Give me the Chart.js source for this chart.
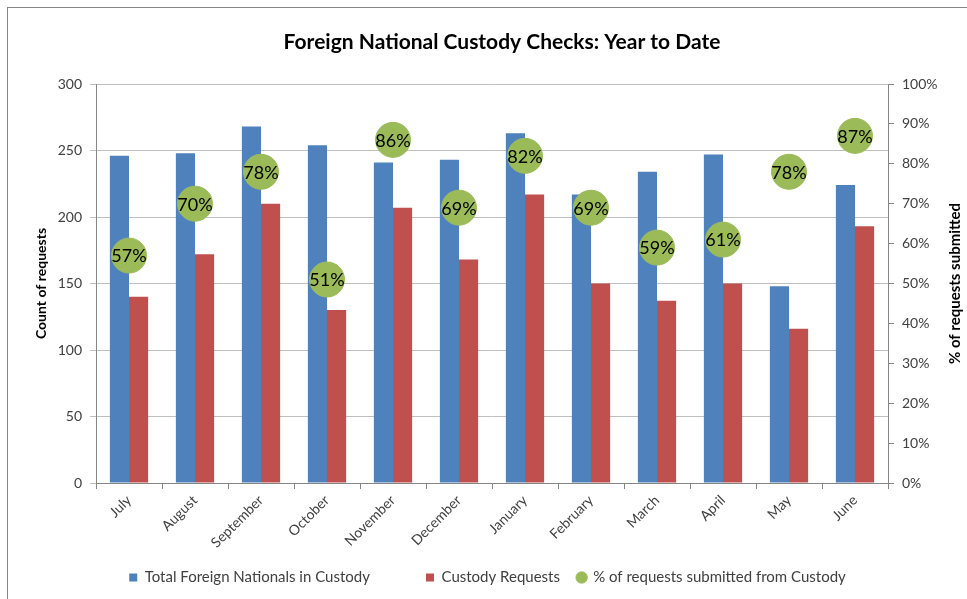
<!DOCTYPE html>
<html>
<head>
<meta charset="utf-8">
<script src="https://cdn.jsdelivr.net/npm/chart.js@4"></script>
<style>
  html, body { margin: 0; padding: 0; background: #fff; }
  #wrap { position: relative; width: 967px; height: 599px; }
  #frame { position: absolute; left: 7px; top: 7px; width: 970px; height: 600px;
           border-left: 1px solid #868686; border-top: 1px solid #868686; }
</style>
</head>
<body>
<div id="wrap">
  <div id="frame"></div>
  <canvas id="myChart" width="967" height="599"></canvas>
</div>
<script>
const months = ["July", "August", "September", "October", "November", "December",
  "January", "February", "March", "April", "May", "June"];
const totalInCustody = [246, 248, 268, 254, 241, 243, 263, 217, 234, 247, 148, 224];
const custodyRequests = [140, 172, 210, 130, 207, 168, 217, 150, 137, 150, 116, 193];
const pctSubmitted = [0.57, 0.70, 0.78, 0.51, 0.86, 0.69, 0.82, 0.69, 0.59, 0.61, 0.78, 0.87];

const FONT = "Lato, 'Open Sans', sans-serif";
const tickColor = "#404040";
const axisColor = "#868686";

// titel och höger axeltitel ritas själv så de hamnar rätt
const extraText = {
  id: "extraText",
  afterDraw(chart) {
    const ctx = chart.ctx;
    const area = chart.chartArea;
    ctx.save();
    ctx.fillStyle = "#000";
    ctx.textAlign = "center";
    ctx.textBaseline = "middle";
    ctx.font = "bold 21px " + FONT;
    ctx.fillText("Foreign National Custody Checks: Year to Date", 502, 42);

    ctx.translate(955, (area.top + area.bottom) / 2);
    ctx.rotate(-Math.PI / 2);
    ctx.font = "bold 15px " + FONT;
    ctx.fillText("% of requests submitted", 0, 0);
    ctx.restore();
  },
  afterDatasetsDraw(chart) {
    // procenttext i de gröna cirklarna
    const ctx = chart.ctx;
    const meta = chart.getDatasetMeta(2);
    ctx.save();
    ctx.fillStyle = "#000";
    ctx.textAlign = "center";
    ctx.textBaseline = "middle";
    ctx.font = "18px " + FONT;
    meta.data.forEach((pt, i) => {
      ctx.fillText(Math.round(pctSubmitted[i] * 100) + "%", pt.x, pt.y + 1);
    });
    ctx.restore();
  }
};

const ctx = document.getElementById("myChart").getContext("2d");

const custodyChart = new Chart(ctx, {
  type: "bar",
  data: {
    labels: months,
    datasets: [
      {
        label: "Total Foreign Nationals in Custody",
        data: totalInCustody,
        backgroundColor: "#4F81BD",
        pointStyle: "rect",
        yAxisID: "y",
        order: 1,
      },
      {
        label: "Custody Requests",
        data: custodyRequests,
        backgroundColor: "#C0504D",
        pointStyle: "rect",
        yAxisID: "y",
        order: 1,
      },
      {
        type: "line",
        label: "% of requests submitted from Custody",
        data: pctSubmitted,
        showLine: false,
        backgroundColor: "#9BBB59",
        borderColor: "#9BBB59",
        pointRadius: 17.5,
        pointHoverRadius: 17.5,
        pointStyle: "circle",
        yAxisID: "y1",
        order: 0,
      },
    ],
  },
  options: {
    responsive: false,
    animation: false,
    events: [],
    layout: { padding: { top: 84, left: 8, right: 0, bottom: 4 } },
    datasets: {
      bar: { barPercentage: 1, categoryPercentage: 0.58 },
    },
    plugins: {
      title: { display: false },
      tooltip: { enabled: false },
      legend: {
        position: "bottom",
        labels: {
          usePointStyle: true,
          boxWidth: 8,
          boxHeight: 8,
          padding: 10,
          color: tickColor,
          font: { family: FONT, size: 15 },
          sort: (a, b) => a.datasetIndex - b.datasetIndex,
          generateLabels: (chart) => {
            const items = Chart.defaults.plugins.legend.labels.generateLabels(chart);
            // lite extra luft efter de två första posterna
            const pad = ["            ", "  "];
            items.forEach((it) => {
              if (it.datasetIndex < 2) it.text += pad[it.datasetIndex];
            });
            return items;
          },
        },
      },
    },
    scales: {
      x: {
        offset: true,
        grid: { offset: true, drawOnChartArea: false, tickLength: 6, color: axisColor },
        border: { color: axisColor },
        ticks: {
          minRotation: 45,
          maxRotation: 45,
          color: tickColor,
          font: { family: FONT, size: 14 },
        },
        afterFit: (scale) => { scale.height = 77; },
      },
      y: {
        position: "left",
        min: 0,
        max: 300,
        ticks: { stepSize: 50, color: tickColor, font: { family: FONT, size: 14 }, padding: 8 },
        grid: { color: "#bfbfbf", tickLength: 6 },
        border: { color: axisColor },
        title: {
          display: true,
          text: "Count of requests",
          color: "#000",
          font: { family: FONT, size: 14, weight: "bold" },
          padding: { top: 25, bottom: 0 },
        },
        afterFit: (scale) => { scale.width = 88; },
      },
      y1: {
        position: "right",
        min: 0,
        max: 1,
        ticks: {
          stepSize: 0.1,
          color: tickColor,
          font: { family: FONT, size: 14 },
          padding: 8,
          callback: (v) => Math.round(v * 100) + "%",
        },
        grid: { drawOnChartArea: false, tickLength: 6, color: axisColor },
        border: { color: axisColor },
        afterFit: (scale) => { scale.width = 79; },
      },
    },
  },
  plugins: [extraText],
});
</script>
</body>
</html>
